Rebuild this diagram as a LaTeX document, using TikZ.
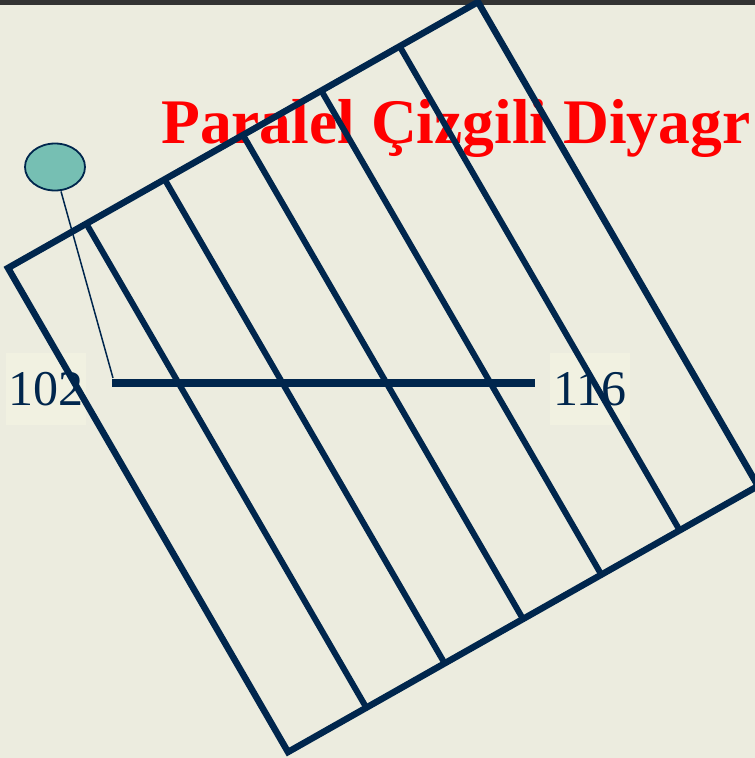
\documentclass[tikz,border=0pt]{standalone}
\usepackage{fontspec}
\setmainfont{Liberation Serif}
\usetikzlibrary{calc,shapes.geometric}
\definecolor{navy}{HTML}{00264D}
\definecolor{bg}{HTML}{ECECDF}
\definecolor{labbg}{HTML}{F1F1E1}
\definecolor{teal}{HTML}{76BFB3}
\definecolor{topgray}{HTML}{333333}
\tikzset{
  frame/.style={draw=navy, line width=6.5pt, line join=miter},
  hatch/.style={draw=navy, line width=6pt},
  hbar/.style={draw=navy, line width=8pt},
  numlab/.style={fill=labbg, text=navy, font=\fontsize{50}{60}\selectfont, inner sep=0pt, minimum width=80pt, minimum height=72pt},
  titlelab/.style={text=red, font=\fontsize{63.5}{70}\selectfont\bfseries, inner sep=0pt, anchor=base west},
}
\begin{document}
\begin{tikzpicture}[x=1pt,y=-1pt]
\useasboundingbox (0,0) rectangle (755,758);
\clip (0,0) rectangle (755,758);
\fill[bg] (0,0) rectangle (755,758);
\fill[topgray] (0,0) rectangle (755,5);
% title
\node[titlelab] (title) at (161,143) {Paralel Çizgili Diyagr};
% labels
\node[numlab] (l102) at (46,389) {102};
\node[numlab] (l116) at (590,389) {116};
% frame corners
\coordinate (A) at (8,268);
\coordinate (B) at (478,2);
\coordinate (C) at (758,486);
\coordinate (D) at (288,752);
\draw[frame] (A) -- (B) -- (C) -- (D) -- cycle;
\foreach \k in {1,...,5} {
  \draw[hatch] ($(A)!\k/6!(B)$) -- ($(D)!\k/6!(C)$);
}
% horizontal bar
\coordinate (h1) at (112,383);
\coordinate (h2) at (535,383);
\draw[hbar] (h1) -- (h2);
% ellipse and pointer
\node[ellipse, draw=navy, fill=teal, line width=1.8pt, minimum width=60pt, minimum height=47pt, inner sep=0pt] (ell) at (55,167) {};
\coordinate (ptr) at (113,378);
\draw[navy, line width=1.5pt] (ell.south) ++(6,0) -- (ptr);
\end{tikzpicture}
\end{document}
